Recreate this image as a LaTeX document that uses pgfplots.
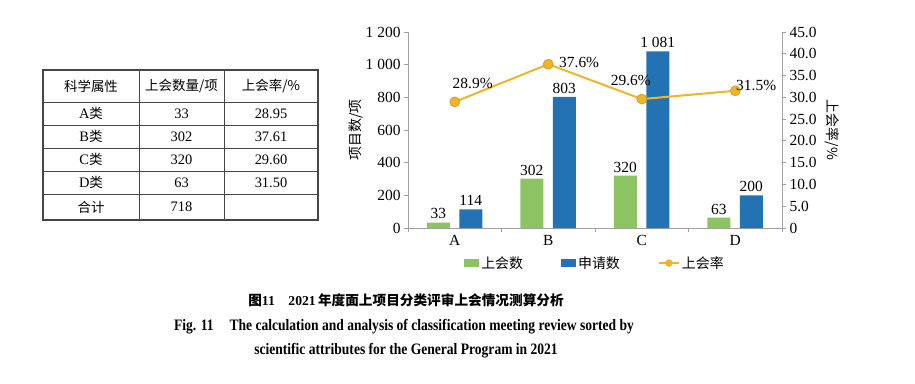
\documentclass[border=0pt]{standalone}
\usepackage{fontspec}
\setmainfont{Liberation Serif}
\newfontfamily\cjk{Noto Sans CJK SC}
\newfontfamily\capfont[FakeStretch=0.85]{Liberation Serif}
\usepackage{pgfplots}
\pgfplotsset{compat=1.18}
\definecolor{barGreen}{RGB}{140,196,100}
\definecolor{barBlue}{RGB}{35,115,180}
\definecolor{gold}{RGB}{240,180,40}
\definecolor{axisgray}{RGB}{160,160,160}
\definecolor{tabline}{RGB}{70,70,70}
\pgfplotsset{/pgf/number format/assume math mode=true}
\begin{document}
\begin{tikzpicture}[x=1bp,y=1bp]
\path (0,0) rectangle (915,383);
% ---- table ----
\draw[tabline, line width=1.2bp] (43,163) rectangle (318,313);
\foreach \yy in {280.5,258,235,212,189} \draw[tabline, line width=1bp] (43,\yy) -- (318,\yy);
\foreach \xx in {139,224} \draw[tabline, line width=0.8bp] (\xx,163) -- (\xx,313);
\begin{scope}[every node/.style={font=\fontsize{14.5}{14}\selectfont, inner sep=0pt}]
\node at (91,296.75) {\cjk\fontsize{13.5}{14}\selectfont 科学属性};
\node at (181.5,296.75) {\cjk\fontsize{13.5}{14}\selectfont 上会数量/项};
\node at (271,296.75) {\cjk\fontsize{13.5}{14}\selectfont 上会率/\%};
\node at (91,269.25) {A{\cjk\fontsize{13.5}{14}\selectfont 类}};
\node at (91,246.5) {B{\cjk\fontsize{13.5}{14}\selectfont 类}};
\node at (91,223.5) {C{\cjk\fontsize{13.5}{14}\selectfont 类}};
\node at (91,200.5) {D{\cjk\fontsize{13.5}{14}\selectfont 类}};
\node at (91,176) {\cjk\fontsize{13.5}{14}\selectfont 合计};
\node at (181.5,269.25) {33};
\node at (181.5,246.5) {302};
\node at (181.5,223.5) {320};
\node at (181.5,200.5) {63};
\node at (181.5,176) {718};
\node at (271,269.25) {28.95};
\node at (271,246.5) {37.61};
\node at (271,223.5) {29.60};
\node at (271,200.5) {31.50};
\end{scope}
% ---- bars ----
\begin{axis}[
  at={(408bp,155bp)}, anchor=south west, scale only axis,
  width=374bp, height=196bp,
  xmin=-0.5, xmax=3.5, ymin=0, ymax=1200,
  xtick={0,1,2,3}, xticklabels={A,B,C,D},
  minor xtick={-0.5,0.5,1.5,2.5,3.5},
  ytick={0,200,...,1200},
  axis y line*=left, axis x line*=bottom,
  axis line style={draw=axisgray, line width=0.8bp},
  tick style={draw=axisgray, line width=0.8bp},
  major x tick style={draw=none},
  tick align=outside, major tick length=4bp, minor tick length=4bp,
  ticklabel style={font=\fontsize{15.5}{15}\selectfont},
  ylabel={\cjk\fontsize{14}{14}\selectfont 项目数/项},
  ylabel style={at={(axis description cs:-0.11,0.5)}},
  ybar, bar width=23bp,
  nodes near coords,
  every node near coord/.append style={font=\fontsize{15.5}{15}\selectfont, black},
  /pgf/number format/1000 sep={\ },
  legend style={at={(0.5,-0.179)}, anchor=center, draw=none, legend columns=3,
    font=\cjk\fontsize{14}{14}\selectfont,
    /tikz/every even column/.append style={column sep=36bp}},
]
\addplot[fill=barGreen, draw=none, bar shift=-16.5bp,
  legend image code/.code={\fill[barGreen] (0bp,-4bp) rectangle (15bp,4bp);}]
  coordinates {(0,33) (1,302) (2,320) (3,63)};
\addlegendentry{上会数}
\addplot[fill=barBlue, draw=none, bar shift=16bp,
  legend image code/.code={\fill[barBlue] (0bp,-4bp) rectangle (15bp,4bp);}]
  coordinates {(0,114) (1,803) (2,1081) (3,200)};
\addlegendentry{申请数}
\addlegendimage{legend image code/.code={
    \draw[gold, line width=2bp] (0bp,0bp) -- (20bp,0bp);
    \fill[gold] (10bp,0bp) circle (3.5bp);}}
\addlegendentry{上会率}
\end{axis}
% ---- rate line ----
\begin{axis}[
  at={(408bp,155bp)}, anchor=south west, scale only axis,
  width=374bp, height=196bp,
  xmin=-0.5, xmax=3.5, ymin=0, ymax=45,
  axis y line*=right, axis x line=none,
  axis line style={draw=axisgray, line width=0.8bp},
  tick style={draw=axisgray, line width=0.8bp},
  tick align=outside, major tick length=4bp,
  ytick={0,5,...,45},
  yticklabels={0,5.0,10.0,15.0,20.0,25.0,30.0,35.0,40.0,45.0},
  ticklabel style={font=\fontsize{15.5}{15}\selectfont},
  ylabel={\cjk\fontsize{14}{14}\selectfont 上会率/\%},
  ylabel style={rotate=180, at={(axis description cs:1.106,0.5)}},
]
\addplot[gold, line width=2bp, mark=*, mark size=5bp, mark options={fill=gold, draw=gold!85!black, line width=0.6bp},
  nodes near coords, point meta=explicit symbolic,
  visualization depends on={\thisrow{dx} \as \dx},
  visualization depends on={\thisrow{dy} \as \dy},
  every node near coord/.style={anchor=center, xshift=\dx, yshift=\dy, black, font=\fontsize{15.5}{15}\selectfont}]
  table[x=x, y=y, meta=lab] {
x y lab dx dy
0 28.95 28.9\% 18 18
1 37.61 37.6\% 31 2
2 29.60 29.6\% -11 19
3 31.50 31.5\% 21 5
};
\end{axis}
% ---- caption ----
\node at (406,83) {\cjk\bfseries\fontsize{13.7}{14}\selectfont 图{\rmfamily\bfseries 11}\quad{\rmfamily\bfseries 2021}\,年度面上项目分类评审上会情况测算分析};
\node at (404,56) {\capfont\bfseries\fontsize{16}{16}\selectfont Fig. 11\quad The calculation and analysis of classification meeting review sorted by};
\node at (406,32) {\capfont\bfseries\fontsize{16}{16}\selectfont scientific attributes for the General Program in 2021};
\end{tikzpicture}
\end{document}
